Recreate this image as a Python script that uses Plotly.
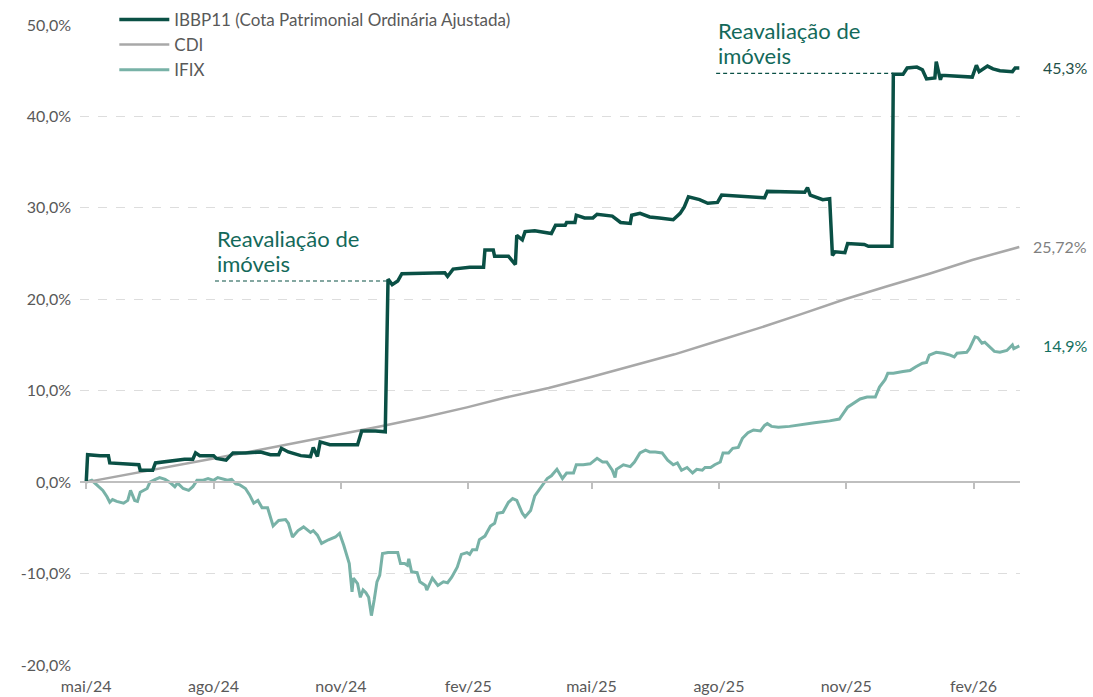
import pandas as pd
import plotly.graph_objects as go

START = pd.Timestamp("2024-05-01")

# ---- data (days since 2024-05-01, cumulative return in %) ----
IBBP_DAYS = [0, 1, 10, 16, 17, 28, 38, 39, 48, 50, 59, 71, 77, 79, 82, 92, 94, 101, 106, 115,
             126, 133, 139, 141, 146, 155, 162, 164, 167, 169, 176, 191, 196, 199, 209, 216,
             218, 221, 225, 228, 248, 259, 261, 265, 277, 287, 288, 294, 295, 305, 310, 311,
             315, 317, 324, 336, 339, 346, 347, 353, 354, 360, 366, 369, 380, 386, 393, 394,
             400, 407, 414, 424, 429, 432, 435, 443, 449, 456, 459, 476, 490, 492, 508, 519,
             521, 523, 532, 537, 539, 541, 548, 550, 562, 565, 582, 583, 590, 593, 600, 604,
             607, 613, 614, 617, 618, 626, 640, 643, 645, 651, 655, 660, 669, 671, 674]
IBBP_VALS = [0.0, 3.0, 2.9, 2.9, 2.1, 2.0, 1.9, 1.3, 1.3, 2.1, 2.3, 2.5, 2.5, 3.2, 2.9, 2.9, 2.6,
             2.4, 3.2, 3.2, 3.3, 3.0, 3.0, 3.7, 3.3, 2.9, 2.8, 3.8, 2.8, 4.4, 4.1, 4.1, 4.1, 5.6,
             5.6, 5.5, 22.2, 21.6, 22.0, 22.8, 22.9, 22.9, 22.5, 23.3, 23.5, 23.5, 25.4, 25.4,
             24.7, 24.7, 23.8, 27.0, 26.5, 27.4, 27.5, 27.2, 28.1, 28.1, 28.4, 28.4, 29.2, 28.9,
             28.9, 29.3, 29.1, 28.4, 28.3, 29.2, 29.4, 29.0, 28.9, 28.7, 29.4, 30.1, 31.2, 30.9,
             30.5, 30.6, 31.4, 31.2, 31.1, 31.8, 31.7, 31.7, 32.2, 31.4, 30.9, 31.0, 24.8, 25.2,
             25.1, 26.1, 26.0, 25.8, 25.8, 44.6, 44.6, 45.3, 45.4, 45.1, 44.1, 44.2, 46.0, 44.0,
             44.5, 44.4, 44.3, 45.6, 44.9, 45.5, 45.2, 45.0, 44.9, 45.3, 45.3]

CDI_DAYS = [0, 30, 60, 91, 122, 152, 183, 213, 244, 275, 303, 334, 364, 395, 425, 456, 487,
            517, 548, 578, 609, 640, 668, 674]
CDI_VALS = [0.0, 0.83, 1.63, 2.55, 3.44, 4.31, 5.28, 6.11, 7.10, 8.18, 9.25, 10.30, 11.47,
            12.74, 13.98, 15.44, 16.9, 18.4, 20.0, 21.4, 22.8, 24.3, 25.5, 25.72]

IFIX_DAYS = [0, 4, 9, 12, 15, 17, 19, 22, 27, 30, 32, 35, 37, 39, 44, 46, 50, 53, 57, 61, 64,
             66, 70, 74, 77, 80, 84, 88, 92, 95, 102, 105, 108, 111, 115, 118, 121, 124, 127,
             131, 135, 139, 144, 146, 149, 153, 157, 162, 164, 167, 170, 175, 180, 183, 186,
             188, 190, 192, 193, 196, 198, 200, 202, 204, 206, 208, 210, 212, 214, 218, 225,
             227, 230, 232, 233, 235, 239, 241, 245, 246, 250, 254, 258, 261, 264, 268, 271,
             275, 277, 279, 282, 284, 288, 292, 295, 297, 301, 305, 308, 311, 315, 317, 321,
             324, 328, 333, 336, 340, 344, 347, 352, 354, 359, 364, 369, 373, 376, 380, 382,
             383, 388, 393, 396, 400, 404, 407, 411, 416, 420, 424, 427, 430, 434, 438, 441,
             445, 447, 451, 454, 458, 460, 464, 467, 471, 474, 478, 482, 487, 490, 492, 495,
             500, 508, 516, 526, 537, 544, 550, 555, 559, 564, 570, 573, 577, 579, 583, 590,
             595, 599, 604, 607, 609, 614, 619, 624, 627, 629, 636, 638, 642, 644, 647, 649,
             651, 656, 660, 665, 669, 670, 674]
IFIX_VALS = [0.0, 0.2, -0.5, -0.9, -1.6, -2.2, -1.9, -2.1, -2.3, -2.0, -0.9, -2.0, -2.1, -1.1,
             -0.7, 0.0, 0.3, 0.5, 0.3, -0.1, -0.5, -0.1, -0.7, -0.9, -0.5, 0.2, 0.2, 0.4, 0.2,
             0.5, 0.2, 0.3, -0.2, -0.3, -0.7, -1.4, -2.3, -2.0, -2.8, -2.8, -4.8, -4.2, -4.1,
             -4.5, -6.0, -5.3, -4.9, -5.5, -5.3, -5.8, -6.7, -6.3, -6.0, -5.6, -6.9, -7.8, -8.9,
             -12.0, -10.5, -11.1, -12.6, -11.8, -12.1, -12.6, -14.6, -12.9, -10.9, -10.2, -7.8,
             -7.7, -7.7, -8.9, -8.9, -9.1, -8.4, -9.8, -9.9, -10.9, -11.3, -11.8, -10.5, -11.3,
             -10.9, -11.0, -10.4, -9.3, -7.9, -7.7, -7.9, -7.4, -7.4, -6.3, -5.9, -4.8, -4.5,
             -3.4, -3.3, -2.2, -1.8, -2.0, -3.4, -3.8, -3.1, -1.5, -0.7, 0.4, 0.7, 1.4, 0.4, 1.0,
             1.0, 1.9, 1.9, 2.0, 2.6, 2.2, 2.2, 1.3, 0.5, 1.4, 1.9, 1.7, 2.2, 3.2, 3.5, 3.3, 3.3,
             3.2, 2.4, 1.9, 2.1, 1.3, 1.6, 1.0, 1.4, 1.3, 1.6, 1.6, 1.9, 2.2, 3.2, 3.2, 3.7, 3.8,
             4.8, 5.4, 5.7, 5.6, 6.2, 6.4, 6.1, 6.0, 6.1, 6.3, 6.5, 6.7, 6.9, 8.2, 8.7, 9.1, 9.3,
             9.3, 10.4, 11.2, 11.9, 11.9, 12.1, 12.2, 12.6, 13.0, 13.1, 13.9, 14.2, 14.1, 13.9,
             13.7, 14.1, 14.2, 14.6, 15.9, 15.8, 15.2, 15.3, 15.0, 14.3, 14.2, 14.4, 15.0, 14.6,
             14.9]

SERIES_NAMES = ["IBBP11 (Cota Patrimonial Ordinária Ajustada)", "CDI", "IFIX"]
END_LABELS = ["45,3%", "25,72%", "14,9%"]

X_TICK_DATES = ["2024-05-01", "2024-08-01", "2024-11-01", "2025-02-01", "2025-05-01",
                "2025-08-01", "2025-11-01", "2026-02-01"]
X_TICK_LABELS = ["mai/24", "ago/24", "nov/24", "fev/25", "mai/25", "ago/25", "nov/25", "fev/26"]
Y_TICKS = [-20, -10, 0, 10, 20, 30, 40, 50]
Y_TICK_LABELS = ["-20,0%", "-10,0%", "0,0%", "10,0%", "20,0%", "30,0%", "40,0%", "50,0%"]

# annotations: (start day, end day, level %, text lines)
NOTE_START = [93, 455]
NOTE_END = [218, 583]
NOTE_LEVEL = [22.0, 44.7]
NOTE_LINES = ["Reavaliação de", "imóveis"]

# ---- styling ----
C_IBBP = "#0A5045"
C_CDI = "#A8A8A8"
C_IFIX = "#78B2A7"
C_NOTE = "#13695A"
TXT = "#595959"
FONT = "Lato, Open Sans, sans-serif"


def to_dates(days):
    return START + pd.to_timedelta(days, unit="D")


fig = go.Figure()

# dashed annotation leaders
for s, e, lv in zip(NOTE_START, NOTE_END, NOTE_LEVEL):
    fig.add_trace(go.Scatter(x=to_dates([s, e]), y=[lv, lv], mode="lines",
                             line=dict(color=C_IBBP, width=1.2, dash="4px,3px"),
                             showlegend=False, hoverinfo="skip"))

fig.add_trace(go.Scatter(x=to_dates(IFIX_DAYS), y=IFIX_VALS, mode="lines", name=SERIES_NAMES[2],
                         line=dict(color=C_IFIX, width=3), legendrank=3))
fig.add_trace(go.Scatter(x=to_dates(CDI_DAYS), y=CDI_VALS, mode="lines", name=SERIES_NAMES[1],
                         line=dict(color=C_CDI, width=2.5), legendrank=2))
fig.add_trace(go.Scatter(x=to_dates(IBBP_DAYS), y=IBBP_VALS, mode="lines", name=SERIES_NAMES[0],
                         line=dict(color=C_IBBP, width=3.5), legendrank=1))

# helper invisible trace for the zero-line tick axis
fig.add_trace(go.Scatter(x=to_dates([CDI_DAYS[0], CDI_DAYS[-1]]), y=[0, 0], xaxis="x2",
                         mode="markers", marker=dict(opacity=0), showlegend=False,
                         hoverinfo="skip"))

# end labels
label_colors = ["#1F4F47", "#7F7F7F", "#137060"]
end_vals = [IBBP_VALS[-1], CDI_VALS[-1], IFIX_VALS[-1]]
for txt, v, col in zip(END_LABELS, end_vals, label_colors):
    fig.add_annotation(x=to_dates([IBBP_DAYS[-1]])[0], y=v, text=txt, showarrow=False,
                       xanchor="right", xshift=70, yshift=0,
                       font=dict(family=FONT, size=16, color=col))

# reavaliação notes (two lines each)
for s, lv in zip(NOTE_START, NOTE_LEVEL):
    for i, line in enumerate(NOTE_LINES):
        fig.add_annotation(x=to_dates([s])[0], y=lv, text=line, showarrow=False,
                           xanchor="left", yanchor="middle", xshift=0,
                           yshift=18 + 25 * (len(NOTE_LINES) - 1 - i),
                           font=dict(family=FONT, size=22, color=C_NOTE))

x_range = to_dates([-4.5, 674.5])
fig.update_layout(
    width=1093, height=697,
    margin=dict(l=80, r=73, t=25, b=32, autoexpand=False),
    plot_bgcolor="white", paper_bgcolor="white",
    font=dict(family=FONT, size=16, color=TXT),
    showlegend=True,
    legend=dict(x=0.0365, y=1.036, xanchor="left", yanchor="top", bgcolor="rgba(0,0,0,0)",
                font=dict(family=FONT, size=17, color=TXT), tracegroupgap=0,
                itemwidth=50),
    xaxis=dict(type="date", range=list(x_range), tickvals=list(to_dates(
        [(pd.Timestamp(d) - START).days for d in X_TICK_DATES])), ticktext=X_TICK_LABELS,
        showgrid=False, zeroline=False, showline=False, ticks="", automargin=False,
        ticklabelstandoff=10, tickfont=dict(family=FONT, size=16, color=TXT)),
    xaxis2=dict(type="date", overlaying="x", matches="x", anchor="free",
                position=20 / 70, side="bottom", showline=True, linecolor="#BFBFBF",
                linewidth=2, ticks="outside", ticklen=6, tickwidth=1.5, tickcolor="#BFBFBF",
                tickvals=list(to_dates([(pd.Timestamp(d) - START).days for d in X_TICK_DATES])),
                showticklabels=False, showgrid=False, zeroline=False, automargin=False),
    yaxis=dict(range=[-20, 50], tickvals=Y_TICKS, ticktext=Y_TICK_LABELS, showgrid=True,
               gridcolor="#DDDDDD", griddash="dash", gridwidth=1, zeroline=False,
               showline=False, ticks="", ticklabelstandoff=8, automargin=False,
               tickfont=dict(family=FONT, size=16, color=TXT)),
)

fig.write_html("out.html", post_script="document.body.style.margin='0';",
               config={"displayModeBar": False})
